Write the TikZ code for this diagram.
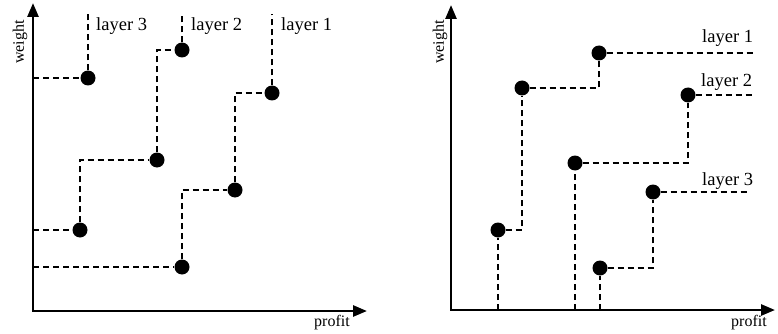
\documentclass[tikz,border=0pt]{standalone}
\usepackage{fontspec}
\setmainfont{Liberation Serif}
\usetikzlibrary{arrows.meta}
\tikzstyle{dot} = [circle, fill=black, inner sep=0pt, minimum size=15pt]
\tikzstyle{axis} = [line width=2.6pt, {Triangle[length=14pt, width=11pt]}-{Triangle[length=14pt, width=11pt]}]
\tikzstyle{stair} = [line width=1.7pt, dash pattern=on 6pt off 4pt]
\tikzstyle{layer} = [inner sep=0pt, anchor=base west, font=\fontsize{18.5}{22}\selectfont]
\tikzstyle{axislabel} = [inner sep=0pt, font=\fontsize{16}{19}\selectfont]

\begin{document}
\begin{tikzpicture}[x=1pt, y=-1pt]
        \useasboundingbox (0,0) rectangle (778,334);

        % left: layers over weight
        \coordinate (O1) at (33,311);
        \coordinate (Y1) at (33,3);
        \coordinate (X1) at (367,311);
        \node (w11) [dot] at (182,267) {};
        \node (w12) [dot] at (235,190) {};
        \node (w13) [dot] at (272,93) {};
        \node (w21) [dot] at (80,230) {};
        \node (w22) [dot] at (157,160) {};
        \node (w23) [dot] at (182,50) {};
        \node (w31) [dot] at (88,78) {};
        \coordinate (s1) at (33,267);
        \coordinate (s2) at (33,230);
        \coordinate (s3) at (33,78);
        \coordinate (t1) at (272,14);
        \coordinate (t2) at (182,14);
        \coordinate (t3) at (88,14);

        \draw [stair] (s1) -- (w11) |- (w12) |- (w13) -- (t1);
        \draw [stair] (s2) -- (w21) |- (w22) |- (w23) -- (t2);
        \draw [stair] (s3) -- (w31) -- (t3);
        \draw [axis] (Y1) -- (O1) -- (X1);

        \node (lw3) [layer] at (96,31) {layer 3};
        \node (lw2) [layer] at (191,31) {layer 2};
        \node (lw1) [layer] at (281,31) {layer 1};
        \node (wt1) [axislabel, rotate=90] at (20,42) {weight};
        \node (pf1) [axislabel, anchor=base] at (332,326) {profit};

        % right: layers over profit
        \coordinate (O2) at (451,310);
        \coordinate (Y2) at (451,5);
        \coordinate (X2) at (775,310);
        \node (p11) [dot] at (498,230) {};
        \node (p12) [dot] at (522,88) {};
        \node (p13) [dot] at (599,53) {};
        \node (p21) [dot] at (575,163) {};
        \node (p22) [dot] at (688,95) {};
        \node (p31) [dot] at (600,268) {};
        \node (p32) [dot] at (653,192) {};
        \coordinate (b1) at (498,310);
        \coordinate (b2) at (575,310);
        \coordinate (b3) at (600,310);
        \coordinate (e1) at (755,53);
        \coordinate (e2) at (752,95);
        \coordinate (e3) at (748,192);

        \draw [stair] (b1) -- (p11) -| (p12) -| (p13) -- (e1);
        \draw [stair] (b2) -- (p21) -| (p22) -- (e2);
        \draw [stair] (b3) -- (p31) -| (p32) -- (e3);
        \draw [axis] (Y2) -- (O2) -- (X2);

        \node (lp1) [layer] at (702,43) {layer 1};
        \node (lp2) [layer] at (701,87) {layer 2};
        \node (lp3) [layer] at (702,185) {layer 3};
        \node (wt2) [axislabel, rotate=90] at (440,42) {weight};
        \node (pf2) [axislabel, anchor=base] at (749,326) {profit};
\end{tikzpicture}
\end{document}
